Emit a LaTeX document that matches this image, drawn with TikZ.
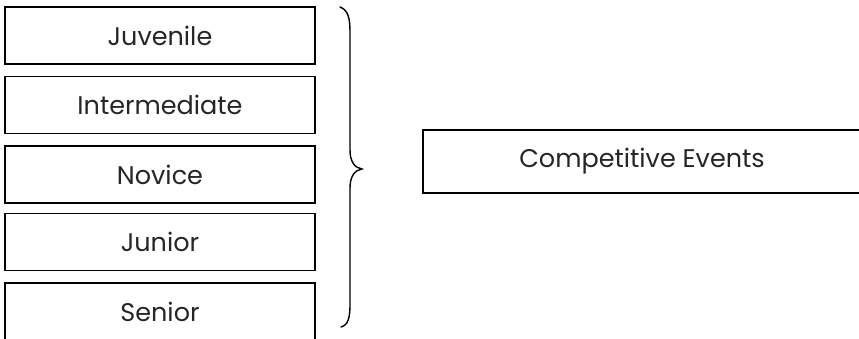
\documentclass[tikz,border=0pt]{standalone}
\usepackage{fontspec}
\setmainfont{Poppins}
\begin{document}
\begin{tikzpicture}[x=1pt,y=-1pt,
  levelbox/.style={draw=black, line width=1.4pt, minimum width=310pt, minimum height=57pt, inner sep=0pt,
    font=\fontsize{25.5}{28}\selectfont, text=black!85},
  eventbox/.style={draw=black, line width=1.4pt, minimum width=438pt, minimum height=63pt, inner sep=0pt,
    font=\fontsize{25.5}{28}\selectfont, text=black!85},
  bracestyle/.style={draw=black, line width=1.4pt, line cap=round}]
\clip (0,0) rectangle (859,338);
\fill[white] (0,0) rectangle (859,338);
\node[levelbox] (juv) at (160,35.5) {Juvenile};
\node[levelbox] (int) at (160,105) {Intermediate};
\node[levelbox] (nov) at (160,174.5) {Novice};
\node[levelbox] (jun) at (160,242) {Junior};
\node[levelbox] (sen) at (160,311.5) {Senior};
\node[eventbox] (comp) at (642,161.5) {Competitive Events};
\coordinate (btop) at (340,7);
\coordinate (btip) at (362,169);
\coordinate (bbot) at (341,327);
\draw[bracestyle] (btop) .. controls (348,10) and (350,18) .. (350,32)
  -- (350,150) .. controls (350,162) and (355,168) .. (btip)
  .. controls (355,170) and (350,176) .. (350,188)
  -- (350,305) .. controls (350,318) and (348,325) .. (bbot);
\end{tikzpicture}
\end{document}
